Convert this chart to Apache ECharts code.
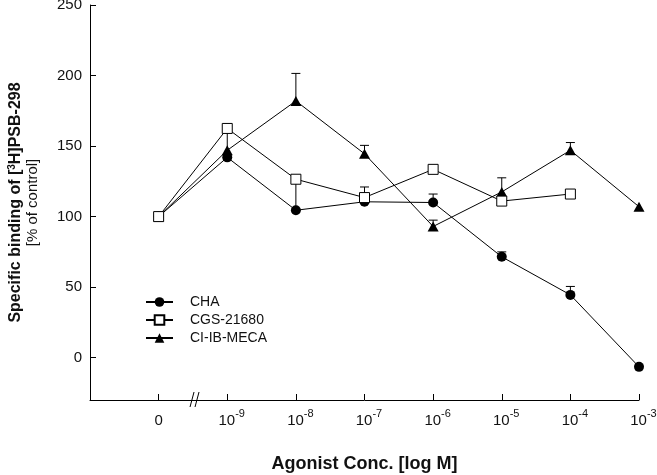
<!DOCTYPE html>
<html>
<head>
<meta charset="utf-8">
<script src="https://cdn.jsdelivr.net/npm/echarts@6/dist/echarts.min.js"></script>
<style>html,body{margin:0;padding:0;background:#fff}#c{width:657px;height:475px}</style>
</head>
<body>
<div id="c"></div>
<script>
// x positions: 0 = no agonist, 1..7 = 10^-9 .. 10^-3 M
const xPositions = [0, 1, 2, 3, 4, 5, 6, 7];
const xTickBase = ['0', '10', '10', '10', '10', '10', '10', '10'];
const xTickExponent = ['', '-9', '-8', '-7', '-6', '-5', '-4', '-3'];
const yTicks = [0, 50, 100, 150, 200, 250];

const seriesNames = ['CHA', 'CGS-21680', 'CI-IB-MECA'];
const chaValues = [100, 142, 104.5, 110.5, 110, 71.5, 44.5, -6.5];
const chaErrTop = [null, null, 126, null, 116, 75, 50.5, null];
const cgsValues = [100, 162.5, 126.5, 113.5, 133.5, 111, 116, null];
const cgsErrTop = [null, 165.5, null, 121, null, null, null, null];
const ciValues = [100, 147, 182, 144.5, 93, 117.5, 147, 107];
const ciErrTop = [null, 160, 201.5, 150.5, 97.5, 127.5, 152.5, null];

const FONT = 'Liberation Sans';

function pairs(vals) {
  const out = [];
  vals.forEach((v, i) => { if (v !== null) out.push([xPositions[i], v]); });
  return out;
}
function errPairs(vals, tops) {
  const out = [];
  vals.forEach((v, i) => { if (v !== null && tops[i] !== null) out.push([xPositions[i], v, tops[i]]); });
  return out;
}
const allErr = errPairs(chaValues, chaErrTop).concat(errPairs(cgsValues, cgsErrTop), errPairs(ciValues, ciErrTop));

const chart = echarts.init(document.getElementById('c'), null, {renderer: 'canvas'});

const lineStyle = {color: '#000', width: 1};
const option = {
  animation: false,
  backgroundColor: '#fff',
  textStyle: {fontFamily: FONT, color: '#111'},
  grid: {left: 90, right: 18, top: 5, bottom: 75, containLabel: false, outerBoundsMode: 'none'},
  legend: {
    orient: 'vertical', left: 140, top: 289, itemWidth: 27, itemHeight: 12, itemGap: 2, padding: 5,
    data: seriesNames,
    textStyle: {fontFamily: FONT, fontSize: 14, color: '#111', padding: [0, 0, 0, 12], lineHeight: 16}
  },
  xAxis: {
    type: 'value', min: -1, max: 7,
    name: 'Agonist Conc. [log M]', nameLocation: 'middle', nameGap: 55,
    nameTextStyle: {fontFamily: FONT, fontSize: 18, fontWeight: 'bold', color: '#111'},
    axisLine: {onZero: false, lineStyle: {color: '#000', width: 1}},
    axisTick: {inside: true, length: 6, lineStyle: {color: '#000'}, customValues: xPositions},
    splitLine: {show: false},
    axisLabel: {
      customValues: xPositions, margin: 8, fontFamily: FONT, fontSize: 15, color: '#111',
      formatter: function (v) {
        const i = xPositions.indexOf(v);
        if (i < 0) return '';
        if (!xTickExponent[i]) return '{base|' + xTickBase[i] + '}';
        return '{basep|' + xTickBase[i] + '}{sup|' + xTickExponent[i] + '}';
      },
      rich: {
        base: {fontFamily: FONT, fontSize: 15, color: '#111', verticalAlign: 'bottom', lineHeight: 20},
        basep: {fontFamily: FONT, fontSize: 15, color: '#111', verticalAlign: 'bottom', lineHeight: 20, padding: [0, 0, 0, 9]},
        sup: {fontFamily: FONT, fontSize: 11, color: '#111', verticalAlign: 'bottom', padding: [0, 0, 9, 0], lineHeight: 20}
      }
    }
  },
  yAxis: {
    type: 'value', min: -30, max: 250,
    name: '{title|Specific binding of [}{tsup|3}{title|H]PSB-298}\n{sub|[% of control]}',
    nameLocation: 'middle', nameRotate: 90, nameGap: 48,
    nameTextStyle: {
      fontFamily: FONT, fontSize: 15, color: '#111',
      rich: {
        title: {fontFamily: FONT, fontSize: 16, fontWeight: 'bold', color: '#111', lineHeight: 20, verticalAlign: 'bottom'},
        tsup: {fontFamily: FONT, fontSize: 10, fontWeight: 'bold', color: '#111', lineHeight: 20, verticalAlign: 'bottom', padding: [0, 0, 7, 0]},
        sub: {fontFamily: FONT, fontSize: 15, color: '#111', lineHeight: 18}
      }
    },
    axisLine: {onZero: false, lineStyle: {color: '#000', width: 1}},
    axisTick: {inside: true, length: 6, lineStyle: {color: '#000'}, customValues: yTicks},
    axisLabel: {customValues: yTicks, margin: 8, fontFamily: FONT, fontSize: 15, color: '#111'},
    splitLine: {show: false}
  },
  series: [
    {
      type: 'custom', name: 'err', z: 1, silent: true,
      data: allErr,
      renderItem: function (params, api) {
        const p = api.coord([api.value(0), api.value(1)]);
        const t = api.coord([api.value(0), api.value(2)]);
        return {
          type: 'group',
          children: [
            {type: 'line', shape: {x1: p[0], y1: p[1], x2: t[0], y2: t[1]}, style: {stroke: '#000', lineWidth: 1}},
            {type: 'line', shape: {x1: t[0] - 4.5, y1: t[1], x2: t[0] + 4.5, y2: t[1]}, style: {stroke: '#000', lineWidth: 1}}
          ]
        };
      }
    },
    {
      type: 'line', name: seriesNames[0], data: pairs(chaValues), z: 3,
      symbol: 'circle', symbolSize: 10, lineStyle: lineStyle,
      itemStyle: {color: '#000', borderColor: '#000', borderWidth: 0}
    },
    {
      type: 'line', name: seriesNames[1], data: pairs(cgsValues), z: 4,
      symbol: 'rect', symbolSize: 10, showAllSymbol: true, lineStyle: lineStyle,
      itemStyle: {color: '#fff', borderColor: '#000', borderWidth: 1}
    },
    {
      type: 'line', name: seriesNames[2], data: pairs(ciValues), z: 3,
      symbol: 'triangle', symbolSize: [11, 10], lineStyle: lineStyle,
      itemStyle: {color: '#000', borderColor: '#000', borderWidth: 0}
    }
  ]
};
chart.setOption(option);

// axis break mark "//" between 0 and 10^-9
const bp = chart.convertToPixel({xAxisIndex: 0, yAxisIndex: 0}, [0.545, -30]);
chart.setOption({
  graphic: [{
    type: 'group', x: bp[0], y: bp[1], z: 100,
    children: [
      {type: 'rect', shape: {x: -3, y: -1.5, width: 5, height: 3}, style: {fill: '#fff'}},
      {type: 'line', shape: {x1: -6, y1: 7, x2: -2, y2: -8}, style: {stroke: '#000', lineWidth: 1}},
      {type: 'line', shape: {x1: -1, y1: 7, x2: 3, y2: -8}, style: {stroke: '#000', lineWidth: 1}}
    ]
  }]
});
</script>
</body>
</html>
